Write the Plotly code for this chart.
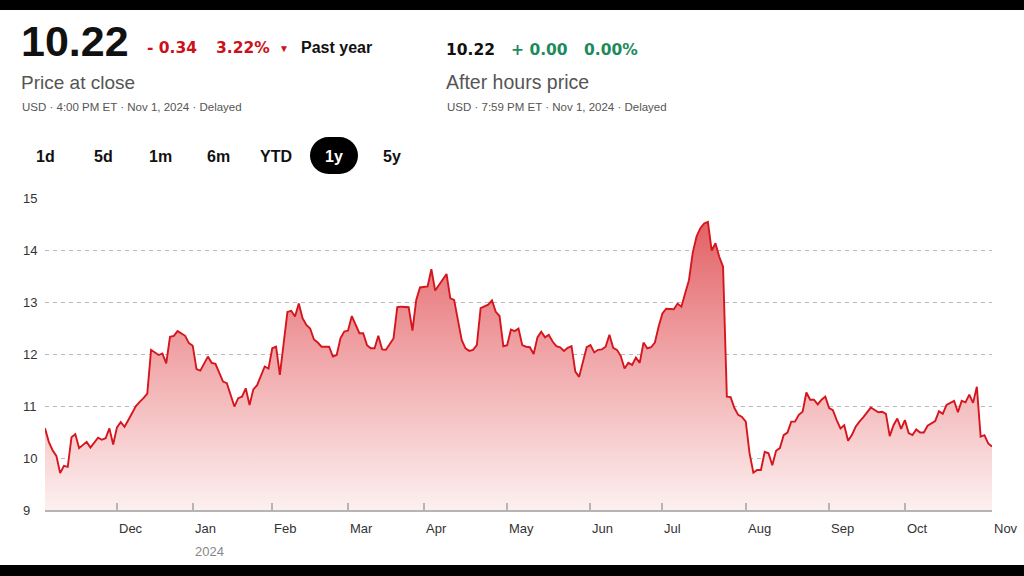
import plotly.graph_objects as go

# trading-day index (0 = first session shown, 250 = Nov 1, 2024) and closing price
day_idx = [0, 1, 2, 3, 4, 5, 6, 7, 8, 9, 11, 12, 14, 15, 16, 17, 18, 19, 20, 21, 22, 24, 25, 26, 27, 28,
           30, 31, 32, 33, 34, 35, 37, 38, 39, 40, 41, 43, 44, 45, 47, 48, 50, 51, 52, 53, 54, 55, 56, 58,
           59, 60, 61, 62, 64, 65, 66, 67, 68, 69, 70, 71, 72, 73, 75, 76, 77, 78, 79, 80, 81, 83, 84, 85,
           86, 87, 88, 89, 90, 92, 93, 94, 96, 97, 98, 99, 101, 102, 103, 104, 106, 107, 108, 110, 111, 112,
           113, 114, 115, 117, 118, 119, 120, 121, 122, 123, 124, 125, 126, 127, 128, 129, 130, 131, 132, 133,
           134, 135, 136, 137, 138, 139, 140, 141, 142, 143, 144, 145, 146, 147, 148, 149, 150, 151, 152, 153,
           154, 155, 156, 157, 158, 159, 160, 161, 162, 163, 164, 166, 167, 168, 169, 170, 171, 172, 173, 174,
           175, 176, 177, 178, 179, 180, 181, 182, 183, 184, 185, 186, 187, 188, 189, 190, 191, 192, 193, 194,
           195, 196, 197, 198, 199, 200, 201, 202, 203, 204, 205, 206, 207, 208, 209, 210, 211, 212, 213, 214,
           215, 216, 218, 219, 220, 221, 222, 223, 224, 225, 226, 227, 228, 229, 230, 231, 232, 233, 234, 235,
           236, 237, 238, 239, 240, 241, 242, 243, 244, 245, 246, 247, 248, 249, 250]
price = [10.57, 10.31, 10.15, 10.04, 9.71, 9.85, 9.83, 10.40, 10.46, 10.19, 10.31, 10.20, 10.39, 10.35, 10.38,
         10.57, 10.26, 10.59, 10.69, 10.60, 10.73, 11.00, 11.08, 11.15, 11.24, 12.08,
         11.98, 12.01, 11.82, 12.33, 12.35, 12.44, 12.35, 12.21, 12.16, 11.71, 11.68, 11.95, 11.83, 11.81,
         11.47, 11.44, 10.99, 11.15, 11.18, 11.34, 11.02, 11.32, 11.40, 11.76,
         11.72, 12.11, 12.14, 11.60, 12.81, 12.83, 12.72, 12.97, 12.69, 12.56, 12.49, 12.28, 12.22, 12.14,
         12.14, 11.95, 11.98, 12.30, 12.43, 12.45, 12.73, 12.40, 12.40, 12.17,
         12.11, 12.11, 12.35, 12.09, 12.08, 12.30, 12.90, 12.91, 12.90, 12.45, 13.04, 13.28, 13.30, 13.63,
         13.22, 13.33, 13.54, 13.07, 13.04, 12.27, 12.11, 12.06,
         12.08, 12.17, 12.88, 12.95, 13.03, 12.81, 12.73, 12.15, 12.17, 12.47, 12.44, 12.49, 12.17, 12.14,
         12.13, 12.00, 12.32, 12.43, 12.32, 12.37,
         12.24, 12.15, 12.13, 12.06, 12.12, 12.15, 11.66, 11.56, 11.82, 12.13, 12.17, 12.03, 12.08, 12.09,
         12.14, 12.37, 12.12, 12.08, 11.96, 11.72,
         11.83, 11.79, 11.93, 11.83, 12.22, 12.11, 12.13, 12.22, 12.53, 12.78, 12.87, 12.86, 12.97, 12.91,
         13.17, 13.42, 13.95, 14.26, 14.42, 14.51,
         14.54, 13.99, 14.13, 13.87, 13.68, 11.18, 11.17, 10.96, 10.83, 10.79, 10.70, 10.09, 9.72, 9.77,
         9.77, 10.12, 10.09, 9.86, 10.14, 10.19,
         10.44, 10.49, 10.70, 10.70, 10.83, 10.89, 11.26, 11.12, 11.12, 11.03, 11.12, 11.18, 10.96, 10.92,
         10.73, 10.57, 10.63, 10.33, 10.44, 10.60,
         10.70, 10.78, 10.97, 10.92, 10.88, 10.89, 10.85, 10.42, 10.63, 10.76, 10.56, 10.73, 10.48, 10.44,
         10.55, 10.49, 10.49, 10.62, 10.67, 10.71,
         10.90, 10.85, 11.02, 11.06, 11.10, 10.88, 11.10, 11.07, 11.22, 11.06, 11.37, 10.41, 10.44, 10.28,
         10.22]

month_idx = [19, 39, 60, 80, 100, 122, 144, 163, 185, 207, 227, 250]
month_labels = ["Dec", "Jan", "Feb", "Mar", "Apr", "May", "Jun", "Jul", "Aug", "Sep", "Oct", "Nov"]
y_ticks = [9, 10, 11, 12, 13, 14, 15]
range_buttons = ["1d", "5d", "1m", "6m", "YTD", "1y", "5y"]
button_x = [45, 103, 160, 218, 276, 334, 392]

W, H = 1024, 576
L, R, T, B = 45, 992, 198, 510
FONT = "Liberation Sans, Arial, sans-serif"
NUMFONT = "DejaVu Sans, Verdana, sans-serif"


def px(x):
    return (x - L) / (R - L)


def py(y):
    return (B - y) / (B - T)


fig = go.Figure()
fig.add_trace(go.Scatter(
    x=day_idx, y=price, mode="lines",
    line=dict(color="#d6161e", width=1.9),
    fill="tozeroy",
    fillgradient=dict(type="vertical", start=9, stop=14.6,
                      colorscale=[[0, "rgb(253,240,240)"], [0.5, "rgb(241,170,172)"],
                                  [1, "rgb(226,96,101)"]]),
    hoverinfo="skip", showlegend=False,
))

ann = []
# y tick labels (left aligned)
for v in y_ticks:
    ann.append(dict(x=px(21), xref="paper", y=v, yref="y", text=str(v), showarrow=False,
                    xanchor="left", yanchor="middle", font=dict(family=FONT, size=13, color="#333")))
# month labels (left aligned at ticks)
for i, m in zip(month_idx, month_labels):
    ann.append(dict(x=i, xref="x", y=py(528), yref="paper", text=m, showarrow=False,
                    xanchor="left", yanchor="middle", font=dict(family=FONT, size=13, color="#333")))
ann.append(dict(x=month_idx[1], xref="x", y=py(551), yref="paper", text="2024", showarrow=False,
                xanchor="left", yanchor="middle", font=dict(family=FONT, size=13, color="#888")))


def txt(x, y, s, size, color, bold=False, family=FONT):
    ann.append(dict(x=px(x), xref="paper", y=py(y), yref="paper",
                    text=f"<b>{s}</b>" if bold else s, showarrow=False,
                    xanchor="left", yanchor="middle",
                    font=dict(family=family, size=size, color=color)))


# header left
txt(19, 41, "10.22", 43, "#111", True)
txt(145, 48, "- 0.34", 15.5, "#cc1119", True, NUMFONT)
txt(214, 48, "3.22%", 15.5, "#cc1119", True, NUMFONT)
txt(277, 49, "▼", 10, "#cc1119")
txt(299, 48, "Past year", 16, "#111", True)
txt(19, 82, "Price at close", 19, "#555")
txt(20, 107, "USD · 4:00 PM ET · Nov 1, 2024 · Delayed", 11.5, "#555")
# header right
txt(444, 50, "10.22", 15.5, "#111", True, NUMFONT)
txt(509, 50, "+ 0.00", 15.5, "#1d8a5d", True, NUMFONT)
txt(582, 50, "0.00%", 15.5, "#1d8a5d", True, NUMFONT)
txt(444, 82, "After hours price", 19.5, "#555")
txt(445, 107, "USD · 7:59 PM ET · Nov 1, 2024 · Delayed", 11.5, "#555")

# range buttons
for lab, bx in zip(range_buttons, button_x):
    ann.append(dict(x=px(bx), xref="paper", y=py(156), yref="paper", text=f"<b>{lab}</b>",
                    showarrow=False, xanchor="center", yanchor="middle",
                    font=dict(family=FONT, size=16, color="#fff" if lab == "1y" else "#111")))

shapes = [
    # selected-range pill
    dict(type="circle", xref="paper", yref="paper", x0=px(310), x1=px(347), y0=py(174), y1=py(137),
         fillcolor="#000", line=dict(width=0), layer="below"),
    dict(type="circle", xref="paper", yref="paper", x0=px(321), x1=px(358), y0=py(174), y1=py(137),
         fillcolor="#000", line=dict(width=0), layer="below"),
    dict(type="rect", xref="paper", yref="paper", x0=px(328), x1=px(340), y0=py(174), y1=py(137),
         fillcolor="#000", line=dict(width=0), layer="below"),
    # black bands top / bottom
    dict(type="rect", xref="paper", yref="paper", x0=px(0), x1=px(W), y0=py(0), y1=py(10),
         fillcolor="#000", line=dict(width=0)),
    dict(type="rect", xref="paper", yref="paper", x0=px(0), x1=px(W), y0=py(565), y1=py(H),
         fillcolor="#000", line=dict(width=0)),
]

fig.update_layout(
    width=W, height=H,
    margin=dict(l=L, r=W - R, t=T, b=H - B),
    paper_bgcolor="#fff", plot_bgcolor="#fff",
    annotations=ann, shapes=shapes,
    xaxis=dict(range=[0, 250], tickvals=month_idx, showticklabels=False, ticks="inside",
               ticklen=7, tickcolor="#b5b5b5", tickwidth=1.5, showgrid=False, zeroline=False,
               showline=True, linecolor="#b5b5b5", linewidth=1.5, fixedrange=True),
    yaxis=dict(range=[9, 15], tickvals=[10, 11, 12, 13, 14, 15], showticklabels=False,
               showgrid=True, gridcolor="#b8b8b8", griddash="4px,4px", gridwidth=1,
               zeroline=False, showline=False, fixedrange=True),
    hovermode=False,
)

fig.write_html("out.html", config={"displayModeBar": False},
               post_script="document.body.style.margin='0px';")
